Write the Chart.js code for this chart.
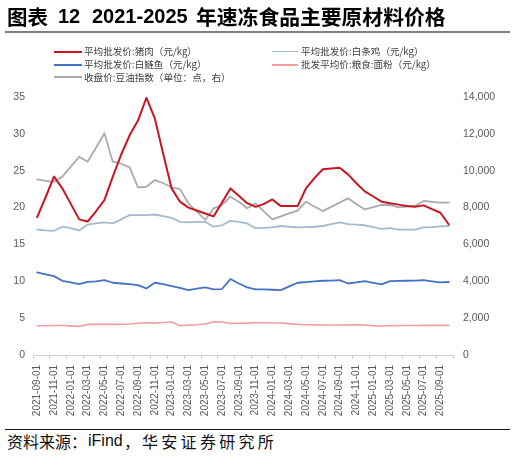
<!DOCTYPE html>
<html><head><meta charset="utf-8">
<script src="https://cdn.jsdelivr.net/npm/chart.js@4.4.0/dist/chart.umd.min.js"></script>
<style>
html,body{margin:0;padding:0;background:#fff;width:516px;height:456px;overflow:hidden;}
#wrap{position:relative;width:516px;height:456px;}
#c{position:absolute;left:0;top:0;}
.t{position:absolute;white-space:nowrap;color:#000;}
.tc{font-family:"Noto Sans CJK SC",sans-serif;font-weight:700;font-size:20.5px;line-height:21px;top:6px;}
.tn{font-family:"Liberation Sans",Arial,sans-serif;font-weight:700;font-size:20px;line-height:21px;top:6px;}
.rule1{position:absolute;left:5px;top:31px;width:505px;height:2px;background:#7f7f7f;}
.rule2{position:absolute;left:5px;top:429px;width:505px;height:1px;background:#1a1a1a;}
.sc{font-family:"Noto Sans CJK SC",sans-serif;font-weight:400;font-size:16px;line-height:16px;top:433px;color:#111;}
.sn{font-family:"Liberation Sans",Arial,sans-serif;font-size:16px;line-height:16px;top:433px;color:#111;}
.lg{position:absolute;font-family:"Noto Sans CJK SC",sans-serif;font-size:9.6px;line-height:12px;color:#404040;white-space:nowrap;}
.ll{position:absolute;height:2px;}
</style></head>
<body><div id="wrap">
<canvas id="c" width="516" height="428"></canvas>
<span class="t tc" style="left:7px">图表</span>
<span class="t tn" style="left:58px">12</span>
<span class="t tn" style="left:92px">2021-2025</span>
<span class="t tc" style="left:196px;font-size:20.8px">年速冻食品主要原材料价格</span>
<div class="rule1"></div>
<div class="rule2"></div>
<span class="t sc" style="left:7px">资料来源：</span>
<span class="t sn" style="left:88px">iFind</span>
<span class="t sc" style="left:124px">，</span>
<span class="t sc" style="left:142px;letter-spacing:3.3px">华安证券研究所</span>
</div>
<script>
const categories = [
'2021-09-01','2021-10-01','2021-11-01','2021-12-01','2022-01-01','2022-02-01','2022-03-01','2022-04-01','2022-05-01','2022-06-01',
'2022-07-01','2022-08-01','2022-09-01','2022-10-01','2022-11-01','2022-12-01','2023-01-01','2023-02-01','2023-03-01','2023-04-01',
'2023-05-01','2023-06-01','2023-07-01','2023-08-01','2023-09-01','2023-10-01','2023-11-01','2023-12-01','2024-01-01','2024-02-01',
'2024-03-01','2024-04-01','2024-05-01','2024-06-01','2024-07-01','2024-08-01','2024-09-01','2024-10-01','2024-11-01','2024-12-01',
'2025-01-01','2025-02-01','2025-03-01','2025-04-01','2025-05-01','2025-06-01','2025-07-01','2025-08-01','2025-09-01','2025-10-01'];

const porkPrice = [18.7,21.4,24.2,22.6,20.5,18.4,18.1,19.5,21.0,24.2,27.2,29.8,31.8,34.9,32.1,27.3,22.6,20.8,20.0,19.6,19.2,18.8,20.7,22.6,21.6,20.6,20.1,20.5,21.1,20.2,20.2,20.2,22.6,24.0,25.2,25.3,25.4,24.5,23.3,22.2,21.5,20.8,20.6,20.4,20.2,20.1,20.3,19.8,19.3,17.7];
const chickenPrice = [17.0,16.9,16.85,17.4,17.2,16.9,17.7,17.85,18.0,17.85,18.4,18.97,18.97,18.97,19.06,18.85,18.6,18.07,18.0,18.05,18.07,17.4,17.6,18.2,18.05,17.85,17.2,17.25,17.3,17.5,17.4,17.3,17.35,17.4,17.5,17.75,18.0,17.75,17.7,17.6,17.35,17.1,17.2,17.0,17.0,17.0,17.3,17.35,17.45,17.5];
const fishPrice = [11.2,10.95,10.7,10.07,9.85,9.62,9.93,10.0,10.16,9.8,9.7,9.62,9.49,9.03,9.8,9.6,9.35,9.12,8.8,9.0,9.17,8.9,8.95,10.3,9.7,9.17,8.9,8.9,8.85,8.8,9.3,9.8,9.9,10.0,10.07,10.1,10.16,9.7,9.85,10.03,9.8,9.58,10.03,10.05,10.07,10.1,10.16,10.0,9.85,9.9];
const flourPrice = [3.97,3.97,4.0,4.0,3.95,3.88,4.15,4.15,4.15,4.15,4.15,4.2,4.3,4.38,4.33,4.4,4.47,3.97,4.05,4.1,4.2,4.52,4.47,4.29,4.3,4.33,4.38,4.38,4.35,4.35,4.25,4.15,4.1,4.08,4.06,4.06,4.06,4.1,4.08,4.06,3.98,3.93,3.98,4.0,4.0,4.0,4.02,4.02,4.02,4.02];
const soyOilIndex = [9530,9450,9400,9680,10220,10760,10490,11250,12030,10490,10380,10180,9100,9130,9500,9320,9100,9010,8230,7780,7330,7960,8140,8590,8320,7960,8230,7780,7360,7520,7680,7830,8320,8060,7810,8040,8270,8500,8200,7900,8020,8140,8140,8010,8050,8090,8360,8310,8270,8270];

const seriesNames = ['平均批发价:猪肉（元/kg）','平均批发价:白条鸡（元/kg）','平均批发价:白鲢鱼（元/kg）','批发平均价:粮食:面粉（元/kg）','收盘价:豆油指数（单位：点，右）'];
const seriesColors = ['#C8161E','#A2BBD0','#4472C4','#F59DA3','#ABABAB'];
const leftAxis = {min:0, max:35, step:5};
const rightAxis = {min:0, max:14000, step:2000};

// HTML legend built from series names/colors
const legendPos = [[54,51.5],[272,51.5],[54,64.5],[272,64.5],[54,77]];
const wrap = document.getElementById('wrap');
seriesNames.forEach((name,k)=>{
  const [lx,ly] = legendPos[k];
  const ln = document.createElement('div');
  ln.className='ll';
  ln.style.left = lx+'px'; ln.style.top = (ly-1)+'px';
  ln.style.width = (k===1||k===3 ? 26 : 28)+'px';
  ln.style.background = seriesColors[k];
  if (k===4 || k===1) ln.style.height='1.5px';
  wrap.appendChild(ln);
  const tx = document.createElement('span');
  tx.className='lg';
  tx.style.left = (lx + (k===1||k===3 ? 29 : 30))+'px';
  tx.style.top = (ly-6.5)+'px';
  tx.textContent = name;
  wrap.appendChild(tx);
});

const tickFont = {family:'"Liberation Sans", Arial, sans-serif', size:10.5};
const tickColor = '#595959';

new Chart(document.getElementById('c'), {
  type:'line',
  data:{
    labels:categories,
    datasets:[
      {label:seriesNames[0], data:porkPrice, borderColor:seriesColors[0], borderWidth:2, yAxisID:'y'},
      {label:seriesNames[1], data:chickenPrice, borderColor:seriesColors[1], borderWidth:1.8, yAxisID:'y'},
      {label:seriesNames[2], data:fishPrice, borderColor:seriesColors[2], borderWidth:1.8, yAxisID:'y'},
      {label:seriesNames[3], data:flourPrice, borderColor:seriesColors[3], borderWidth:1.6, yAxisID:'y'},
      {label:seriesNames[4], data:soyOilIndex, borderColor:seriesColors[4], borderWidth:1.8, yAxisID:'y1'}
    ]
  },
  options:{
    responsive:false,
    animation:false,
    events:[],
    layout:{padding:{top:97,left:0,right:0,bottom:0}},
    elements:{point:{radius:0}, line:{tension:0, fill:false, borderCapStyle:'round', borderJoinStyle:'round'}},
    plugins:{legend:{display:false}, tooltip:{enabled:false}},
    scales:{
      x:{
        type:'category', offset:true,
        grid:{display:true, offset:true, drawOnChartArea:false, drawTicks:true, tickLength:4,
          color:(c)=> (c.index===undefined || c.index%2===0) ? '#D0D0D0' : 'rgba(0,0,0,0)', lineWidth:1},
        border:{display:true, color:'#D0D0D0', width:1},
        ticks:{autoSkip:false, maxRotation:90, minRotation:90, padding:6, color:tickColor,
          font:{family:'"Liberation Sans", Arial, sans-serif', size:10},
          callback:(v,i)=> i%2===0 ? categories[i] : ''},
        afterFit:(s)=>{ s.height = 73; }
      },
      y:{
        position:'left', min:leftAxis.min, max:leftAxis.max,
        grid:{display:false, drawTicks:false}, border:{display:false},
        ticks:{stepSize:leftAxis.step, padding:8, color:tickColor, font:tickFont},
        afterFit:(s)=>{ s.width = 33; }
      },
      y1:{
        position:'right', min:rightAxis.min, max:rightAxis.max,
        grid:{display:false, drawTicks:false}, border:{display:false},
        ticks:{stepSize:rightAxis.step, padding:10, color:tickColor, font:tickFont,
          callback:(v)=> v.toLocaleString('en-US')},
        afterFit:(s)=>{ s.width = 63; }
      }
    }
  }
});
</script>
</body></html>
